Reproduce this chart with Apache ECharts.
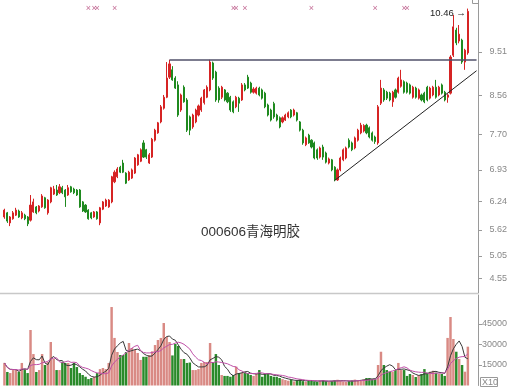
<!DOCTYPE html>
<html><head><meta charset="utf-8">
<script src="https://cdn.jsdelivr.net/npm/echarts@6/dist/echarts.min.js"></script>
<style>html,body{margin:0;padding:0;background:#fff}#c{width:511px;height:387px}</style>
</head><body><div id="c"></div>
<script>
// ---- data ----
const title = '000606青海明胶';
const priceTicks = [9.51, 8.56, 7.70, 6.93, 6.24, 5.62, 5.05, 4.55];
const volumeTicks = [45000, 30000, 15000];
const open = [5.90,5.99,5.77,5.86,5.94,6.03,5.88,5.94,5.90,5.83, 6.01,6.12,6.03,6.12,6.32,5.99,6.23,6.40,6.49,6.43,
 6.54,6.49,6.38,6.56,6.51,6.49,6.49,6.23,6.16,6.05, 5.99,5.90,6.01,5.77,6.07,6.14,6.12,6.23,6.67,6.78,
 6.99,7.08,6.86,6.71,6.75,6.86,7.04,7.12,7.52,7.37, 7.08,7.21,7.58,7.74,7.98,8.28,8.52,8.96,9.12,8.94,
 8.79,8.24,8.74,8.46,8.09,7.87,7.98,8.13,8.24,8.40, 8.52,8.68,9.27,9.07,8.72,8.52,8.68,8.61,8.52,8.42,
 8.31,8.50,8.46,8.79,8.96,8.83,8.63,8.61,8.72,8.68, 8.61,8.35,8.24,8.38,8.13,8.07,7.98,8.02,8.09,8.24,
 8.13,8.18,7.98,7.80,7.48,7.69,7.58,7.52,7.37,7.21, 7.43,7.30,7.08,7.15,6.99,6.71,6.93,7.15,7.19,7.58,
 7.52,7.41,7.58,7.74,7.78,7.91,7.85,7.74,7.65,7.52, 8.39,8.68,8.63,8.61,8.42,8.68,8.63,8.76,8.86,8.83,
 8.79,8.52,8.72,8.50,8.57,8.61,8.74,8.50,8.57,8.74, 8.57,8.79,8.63,8.52,8.61,9.44,9.99,9.75,9.77,9.29,
 9.49];
const close = [6.05,5.81,5.90,5.99,6.05,5.90,5.99,5.86,5.75,6.16, 6.23,5.99,6.14,6.36,6.10,6.27,6.54,6.51,6.38,6.56,
 6.43,6.34,6.54,6.45,6.43,6.38,6.12,6.03,6.01,5.86, 5.88,6.01,5.86,6.10,6.23,6.27,6.27,6.78,6.88,6.95,
 6.88,6.88,6.64,6.88,6.93,7.19,7.26,7.37,7.21,7.21, 7.26,7.60,7.80,7.96,8.31,8.52,8.94,9.25,8.90,8.72,
 8.13,8.57,8.42,7.80,7.80,8.13,8.24,8.33,8.50,8.68, 8.74,9.29,8.94,8.46,8.46,8.74,8.46,8.42,8.24,8.20,
 8.52,8.39,8.79,8.68,8.72,8.63,8.70,8.72,8.57,8.50, 8.31,8.13,8.02,8.09,8.02,7.87,8.07,8.13,8.18,8.09,
 8.24,8.02,7.80,7.52,7.63,7.52,7.43,7.19,7.19,7.41, 7.21,7.10,7.17,6.93,6.71,6.93,7.19,7.37,7.41,7.43,
 7.37,7.63,7.80,7.91,7.90,7.74,7.65,7.58,7.55,8.31, 8.72,8.46,8.50,8.46,8.63,8.52,8.94,8.90,8.63,8.63,
 8.61,8.74,8.52,8.68,8.46,8.42,8.46,8.72,8.74,8.52, 8.74,8.61,8.46,8.57,9.40,10.06,9.71,9.90,9.29,9.55,
 10.40];
const low = [5.86,5.77,5.70,5.84,5.92,5.88,5.85,5.83,5.70,5.80, 5.99,5.96,6.00,6.10,6.08,5.95,6.20,6.38,6.36,6.40,
 6.40,6.12,6.36,6.43,6.40,6.36,6.10,6.01,5.99,5.84, 5.85,5.88,5.84,5.72,6.05,6.12,6.10,6.20,6.64,6.75,
 6.86,6.86,6.62,6.69,6.73,6.84,7.02,7.10,7.19,7.17, 7.06,7.19,7.55,7.72,7.95,8.25,8.50,8.92,8.88,8.70,
 8.09,8.20,8.40,7.76,7.69,7.83,7.95,8.10,8.20,8.36, 8.50,8.65,8.90,8.42,8.40,8.48,8.43,8.39,8.20,8.17,
 8.28,8.20,8.44,8.65,8.70,8.60,8.60,8.58,8.54,8.47, 8.28,8.10,7.99,8.05,7.99,7.84,7.95,8.00,8.06,8.06,
 8.10,7.99,7.77,7.48,7.45,7.50,7.40,7.16,7.15,7.18, 7.15,7.07,7.05,6.90,6.68,6.69,6.90,7.12,7.16,7.40,
 7.34,7.38,7.55,7.71,7.75,7.71,7.62,7.55,7.50,7.48, 8.35,8.42,8.46,8.43,8.31,8.49,8.60,8.73,8.60,8.60,
 8.58,8.49,8.49,8.47,8.43,8.39,8.43,8.47,8.54,8.49, 8.54,8.58,8.43,8.40,8.58,9.40,9.66,9.70,9.25,9.12,
 9.45];
const high = [6.08,6.01,5.92,6.03,6.10,6.06,6.03,5.97,5.92,6.38, 6.30,6.14,6.16,6.40,6.34,6.29,6.56,6.58,6.60,6.62,
 6.58,6.51,6.60,6.58,6.54,6.51,6.51,6.25,6.18,6.07, 6.01,6.03,6.03,6.12,6.25,6.30,6.29,6.80,6.92,6.99,
 7.02,7.15,6.88,6.91,6.96,7.21,7.28,7.40,7.58,7.39, 7.30,7.63,7.83,7.98,8.35,8.57,9.29,9.34,9.20,8.98,
 8.87,8.60,8.78,8.50,8.12,8.16,8.27,8.36,8.53,8.70, 8.78,9.34,9.30,9.10,8.76,8.77,8.70,8.63,8.55,8.45,
 8.55,8.53,8.83,8.83,9.01,8.86,8.74,8.75,8.75,8.71, 8.64,8.38,8.27,8.42,8.16,8.10,8.10,8.16,8.21,8.26,
 8.27,8.20,8.00,7.83,7.66,7.72,7.60,7.55,7.40,7.44, 7.48,7.33,7.20,7.17,7.01,6.96,7.22,7.40,7.44,7.62,
 7.55,7.66,7.83,7.96,7.93,7.94,7.88,7.77,7.68,8.35, 8.90,8.72,8.66,8.64,8.66,8.71,8.97,9.12,8.89,8.86,
 8.82,8.77,8.75,8.71,8.60,8.64,8.77,8.75,8.77,8.90, 8.77,8.82,8.66,8.60,9.44,10.32,10.04,10.10,9.80,9.58,
 10.46];
const volume = [16500,9900,9100,11300,11300,9900,16500,12000,9100,40600, 23000,9900,11300,23000,15000,17200,31800,19400,11300,11300,
 17200,16500,16500,12800,16500,13500,9100,7700,6400,4700, 5500,6400,9100,12000,12800,12000,16500,57400,34800,24500,
 22300,22300,24500,31100,27400,26000,23800,18700,21000,21000, 22300,25000,29600,33300,34800,45700,35500,31800,22000,30400,
 28900,19400,19400,16500,16800,11300,11300,12000,16500,17200, 17200,31100,17200,23000,15000,7700,7000,7000,6400,7700,
 13800,9100,9400,9900,9100,7700,7000,8400,11300,6400, 8400,9100,7000,6400,6400,5500,4700,4000,3500,4200,
 3000,3800,4500,3200,2800,3600,4000,3000,2600,3400, 3900,3100,2700,3300,3800,4200,3500,3000,2600,3200,
 3700,4300,3600,4000,4500,5500,5500,4700,4700,15000, 24700,15000,11300,10100,10100,11300,16500,11300,11300,7000,
 8400,7700,6200,7700,8400,12000,9400,10100,10800,9400, 8400,8400,7000,34800,50100,34000,24700,19400,15000,10100,
 28400];
const eventIdx = [29, 31, 32, 38, 79, 80, 83, 106, 128, 138, 139];
const eventLevel = 10.47;
const resistance = [[57, 9.33], [163, 9.33]];
const support = [[114, 6.70], [163, 9.10]];
const peak = [160, 10.46];

// ---- build ----
const PAD = 3;
const cats = Array.from({length: open.length + PAD}, (_, i) => String(i));
const ohlc = open.map((o, i) => [o, close[i], low[i], high[i]]);
const volData = volume.map((v, i) => ({
  value: v,
  itemStyle: close[i] >= open[i] ? {color: '#d98a84'} : {color: '#2a8a2a'}
}));
function movingAvg(arr, n) {
  return arr.map((_, i) => {
    const s = Math.max(0, i - n + 1);
    let sum = 0;
    for (let k = s; k <= i; k++) sum += arr[k];
    return Math.round(sum / (i - s + 1));
  });
}
const ma5 = movingAvg(volume, 5);
const ma10 = movingAvg(volume, 10);

const FONT = 'Liberation Sans, Arial, sans-serif';
const chart = echarts.init(document.getElementById('c'), null, {renderer: 'canvas'});
const axisCommon = {
  type: 'value', position: 'right', splitLine: {show: false},
  axisLine: {show: true, lineStyle: {color: '#9a9a9a'}}
};
chart.setOption({
  animation: false,
  backgroundColor: '#fff',
  title: {
    text: title, left: 201, top: 226, padding: 0,
    textStyle: {fontSize: 13.5, fontWeight: 'normal', color: '#333', fontFamily: 'Liberation Sans, Noto Sans CJK SC'}
  },
  grid: [
    {left: 3, top: 0, width: 475, height: 293, outerBoundsMode: 'none'},
    {left: 3, top: 295, width: 475, height: 90.5, outerBoundsMode: 'none'}
  ],
  xAxis: [
    {type: 'category', data: cats, gridIndex: 0, show: false},
    {type: 'category', data: cats, gridIndex: 1, show: false}
  ],
  yAxis: [
    Object.assign({}, axisCommon, {
      gridIndex: 0, min: 4.236, max: 10.648,
      axisTick: {show: true, customValues: priceTicks, length: 4, lineStyle: {color: '#9a9a9a'}},
      axisLabel: {customValues: priceTicks, formatter: v => Number(v).toFixed(2), color: '#888', fontSize: 9, fontFamily: FONT, align: 'right', margin: 29}
    }),
    Object.assign({}, axisCommon, {
      gridIndex: 1, min: 0, max: 66200,
      axisTick: {show: true, customValues: volumeTicks, length: 4, lineStyle: {color: '#9a9a9a'}},
      axisLabel: {customValues: volumeTicks, formatter: v => String(Math.round(v)), color: '#888', fontSize: 9, fontFamily: FONT, align: 'right', margin: 29}
    })
  ],
  series: [
    {
      type: 'candlestick', xAxisIndex: 0, yAxisIndex: 0, data: ohlc, barWidth: 1.6,
      itemStyle: {color: '#d62424', color0: '#1f8a1f', borderColor: '#d62424', borderColor0: '#1f8a1f', borderWidth: 1},
      markLine: {
        silent: true, symbol: ['none', 'none'], label: {show: false}, animation: false,
        data: [
          [{coord: resistance[0], lineStyle: {color: '#50506a', width: 1.5, type: 'solid'}}, {coord: resistance[1]}],
          [{coord: support[0], lineStyle: {color: '#222', width: 1, type: 'solid'}}, {coord: support[1]}]
        ]
      },
      markPoint: {
        symbol: 'circle', symbolSize: 0, silent: true,
        data: [{coord: peak, value: peak[1]}],
        label: {show: true, position: 'left', distance: 2, formatter: p => p.value.toFixed(2) + ' →', color: '#222', fontSize: 9.5, fontFamily: FONT, offset: [0, 5]}
      }
    },
    {
      type: 'scatter', xAxisIndex: 0, yAxisIndex: 0, silent: true,
      data: eventIdx.map(i => [i, eventLevel]),
      symbolSize: 1, itemStyle: {color: 'rgba(0,0,0,0)'},
      label: {show: true, position: 'inside', formatter: '×', color: '#b5497c', fontSize: 9, fontFamily: FONT}
    },
    {type: 'bar', xAxisIndex: 1, yAxisIndex: 1, data: volData, barWidth: '85%'},
    {type: 'line', xAxisIndex: 1, yAxisIndex: 1, data: ma5, symbol: 'none', lineStyle: {color: '#3a3a3a', width: 1}},
    {type: 'line', xAxisIndex: 1, yAxisIndex: 1, data: ma10, symbol: 'none', lineStyle: {color: '#c050a8', width: 1}}
  ],
  graphic: [
    {type: 'line', shape: {x1: 0, y1: 293.5, x2: 478, y2: 293.5}, style: {stroke: '#c8c8c8', lineWidth: 1.5}, silent: true},
    {type: 'rect', shape: {x: 472.5, y: -1.5, width: 6, height: 5}, style: {fill: 'none', stroke: '#999', lineWidth: 1}, silent: true},
    {type: 'rect', shape: {x: 480.5, y: 377.5, width: 17, height: 9}, style: {fill: 'none', stroke: '#999', lineWidth: 1}, silent: true},
    {type: 'text', x: 482, y: 378, style: {text: 'X10', fill: '#888', fontSize: 9, fontFamily: FONT}, silent: true}
  ]
});
</script></body></html>
